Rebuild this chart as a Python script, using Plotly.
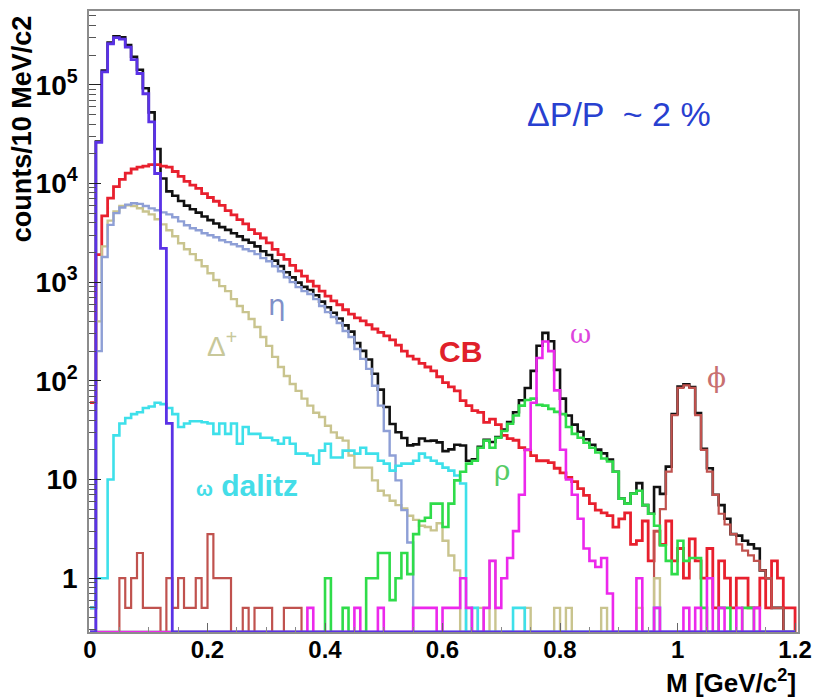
import numpy as np
import plotly.graph_objects as go

# ---------------- data (counts per 10 MeV bin, 0 - 1.2 GeV, 120 bins) ----------------
bin_edges = np.round(np.linspace(0.0, 1.2, 121), 3)

pi0_dalitz = [0, 2.6e4, 1.35e5, 2.6e5, 3.0e5, 2.9e5, 2.4e5, 1.8e5, 1.3e5, 8.1e4,
              4.2e4, 1.26e4, 2.2e3, 37] + [0] * 106

cb = [60, 1900, 4700, 7100, 9300, 11000, 12700, 14000, 14600, 15000,
      15500, 15500, 15000, 14600, 13200, 11800, 10500, 9600, 8900, 7900,
      7200, 6600, 6000, 5300, 4800, 4300, 3900, 3400, 3100, 2800,
      2500, 2150, 1900, 1700, 1480, 1300, 1150, 1020, 910, 810,
      720, 645, 590, 525, 475, 435, 405, 370, 335, 310,
      285, 260, 230, 200, 178, 166, 150, 138, 126, 110,
      96, 87, 79, 63, 56, 50, 48, 38, 41, 36,
      28, 26, 25, 21, 20, 17.5, 15.5, 15.5, 14.8, 13,
      11.7, 10.5, 9.5, 8.1, 6.9, 5.7, 4.9, 4.6, 4.3, 3.3,
      4.0, 4.6, 2.2, 2.4, 3.8, 1.5, 3.0, 2.2, 3.8, 1.5,
      2.0, 1.0, 2.5, 1.5, 1.0, 2.0, 0.5, 1.5, 1.0, 0.5,
      1.0, 1.0, 0.5, 0.5, 1.0, 0.5, 1.5, 1.0, 0.5, 0.5]

eta_dalitz = [0, 200, 1800, 3800, 5000, 5700, 6100, 6300, 6200, 5900,
              5590, 5340, 5090, 4860, 4540, 4130, 3770, 3510, 3350, 3130,
              2980, 2850, 2660, 2540, 2420, 2310, 2150, 2060, 1920, 1750,
              1630, 1450, 1290, 1120, 1000, 890, 810, 757, 673, 572,
              497, 443, 385, 320, 278, 210, 167, 132, 89, 56,
              31, 17.5, 9.8, 4.9, 2.3] + [0] * 65

delta_plus = [0, 400, 2300, 4200, 5200, 5900, 6000, 5900, 5600, 5200,
              4860, 4330, 3850, 3350, 2920, 2480, 2150, 1920, 1670, 1450,
              1230, 1050, 910, 810, 673, 572, 497, 423, 351, 278,
              226, 175, 138, 112, 93, 79, 66, 56, 47.5, 43,
              35, 30, 26.5, 24.8, 17.5, 13.2, 13.2, 13.2, 9.8, 7.7,
              6.9, 6.1, 5.5, 5.1, 4.3, 3.9, 3.4, 3.3, 3.05, 3.6,
              2.4, 1.7, 1.2, 0, 0.5, 0, 0.5, 0, 1.5, 0,
              0, 0, 0, 0, 0.5, 0, 0, 0, 0, 0.5,
              0, 0.5, 0, 0, 0, 0, 0, 0.5, 0, 0,
              0, 0, 0, 0.5, 0, 0, 1.0, 0, 0, 0,
              0, 0, 0, 0, 0, 0, 0, 0, 0, 0,
              0, 0, 0, 0, 0, 0, 0, 0, 0, 0]

omega_dalitz = [0.5, 1, 1, 10, 28, 37, 42, 46, 48, 53,
                55, 60, 58, 53, 46, 34, 37, 39, 39, 38,
                37, 29, 37, 29, 37, 23, 34, 29, 29, 26.5,
                26.5, 25, 23, 26.5, 23, 18.3, 18.3, 17.5, 14.5, 19.6,
                23, 16.7, 16.7, 19.6, 19.6, 18.3, 21, 18.3, 18.3, 15.5,
                14.5, 12.3, 13.8, 14.5, 14.5, 15.5, 18.3, 16.7, 15.5, 14.5,
                13.2, 12.3, 11, 9.1, 0, 0.5, 0, 0, 0, 0,
                0, 0, 0.5, 0.5, 0, 0, 0, 0, 0, 0,
                0, 0, 0, 0, 0, 0, 0, 0, 0, 0,
                0, 0, 0, 0, 0, 0, 0.5, 0, 0, 0,
                0, 0, 0, 0, 0, 0, 0, 0, 0, 0,
                0, 0, 0, 0, 0, 0, 0, 0, 0, 0]

rho = [0] * 40 + [1.0, 0, 0, 0.5, 0, 0, 0, 1.0, 1.0, 1.8,
                  1.8, 0.6, 1.0, 1.8, 1.1, 2.8, 3.8, 4.1, 5.7, 5.7,
                  3.3, 5.7, 9.8, 12, 14.5, 15.5, 21, 24.8, 21, 26.5,
                  31, 36.7, 44.5, 56, 64, 66, 57, 56, 52, 48.5,
                  46, 34, 29, 26.5, 23.6, 21, 18.8, 16.3, 15.2, 12,
                  6.4, 5.7, 7.2, 7.7, 5.5, 4.5, 3.4, 2.15, 1.5, 1.1,
                  2.4, 1.5, 1.6, 1.6, 0.5, 0, 0, 0.5, 0.5, 0,
                  0, 0.5, 0.5, 0, 0, 0, 0, 0, 0, 0]

omega = [0] * 37 + [0.5, 0, 0, 0, 0, 0, 0, 0, 0.5, 0, 0, 0, 0.5,
                    0, 0, 0, 0, 0, 0.5, 0.5, 0.5, 0.5, 0, 0.5, 0.5, 0.5, 1.0,
                    0.5, 0, 0, 0.5, 1.5, 0.5, 1.0, 1.6, 3.0, 7,
                    20, 60, 170, 250, 200, 80, 20, 10, 7, 4,
                    2, 1.5, 1.3, 1.6, 0.7, 0, 0, 0, 0, 1.0,
                    0, 0, 0.5, 0, 0, 0, 0, 0.5, 0, 0.5,
                    0, 1.0, 0, 0.5, 0, 0, 0.5, 0, 0, 0.5,
                    0, 0, 0, 0, 0, 0]

phi = [0, 0, 0, 0, 0, 1.0, 0.5, 1.0, 1.8, 0.5,
       0.5, 0.5, 0, 1.0, 0.5, 1.0, 0.5, 0.5, 1.0, 0.5,
       2.8, 1.0, 1.0, 1.0, 0, 0, 0.5, 0, 0.5, 0.5,
       0.5, 0, 0, 0.5, 0.5, 0.5, 0, 0, 0, 0,
       0, 0, 0, 0, 0, 0, 0, 0, 0, 0,
       0, 0, 0, 0, 0, 0, 0, 0, 0, 0,
       0, 0, 0, 0, 0, 0, 0, 0, 0, 0,
       0, 0, 0, 0, 0, 0, 0, 0, 0, 0,
       0, 0, 0, 0, 0, 0, 0, 0, 0, 0,
       0, 0, 0, 0, 0, 0, 3, 5, 12, 45,
       85, 90, 85, 45, 20, 12, 7, 4.5, 3.5, 2.8,
       2.2, 1.9, 1.7, 1.5, 1.2, 1.0, 0.5, 0.5, 0, 0]

# cocktail sum (black) = sum of all sources except the combinatorial background
cocktail = (np.array(pi0_dalitz) + np.array(eta_dalitz) + np.array(delta_plus)
            + np.array(omega_dalitz) + np.array(rho) + np.array(omega) + np.array(phi))

y_tick_vals = [1, 10, 100, 1000, 10000, 100000]
y_tick_text = ["1", "10", "10<sup>2</sup>", "10<sup>3</sup>", "10<sup>4</sup>", "10<sup>5</sup>"]
x_tick_vals = [0, 0.2, 0.4, 0.6, 0.8, 1.0, 1.2]
x_tick_text = ["0", "0.2", "0.4", "0.6", "0.8", "1", "1.2"]

# ---------------- figure ----------------
Y_LOG_MIN, Y_LOG_MAX = -0.545, 5.747
floor = 10 ** Y_LOG_MIN


def step_xy(vals):
    v = np.asarray(vals, dtype=float)
    x = np.concatenate([bin_edges[:-1], [bin_edges[-1], bin_edges[-1]]])
    y = np.concatenate([v, [v[-1], 0.0]])
    y = np.where(y > 0, y, floor)
    return x, y


series = [
    (cocktail, "#111111", 2.6),
    (cb, "#e8202e", 2.8),
    (phi, "#c0524e", 2.2),
    (delta_plus, "#c9c48e", 2.4),
    (eta_dalitz, "#8e9fd6", 2.4),
    (omega_dalitz, "#3ee0ea", 2.6),
    (rho, "#2fdc4a", 2.6),
    (omega, "#ec28ec", 2.6),
    (pi0_dalitz, "#5a32e6", 2.8),
]

fig = go.Figure()
for vals, col, w in series:
    x, y = step_xy(vals)
    fig.add_trace(go.Scatter(x=x, y=y, mode="lines", line=dict(color=col, width=w, shape="hv"),
                             hoverinfo="skip", showlegend=False))

bold = dict(family="Liberation Sans, Arial, sans-serif", color="black", weight="bold")

fig.update_layout(
    width=821, height=700,
    margin=dict(l=89, r=21, t=9, b=68),
    paper_bgcolor="white", plot_bgcolor="white",
    showlegend=False,
    xaxis=dict(range=[-0.0017, 1.205], tickvals=x_tick_vals, ticktext=x_tick_text,
               showgrid=False, zeroline=False, showline=True, mirror=True,
               linecolor="#8c8c8c", linewidth=1.5, ticks="inside", ticklen=9,
               tickcolor="#666", tickfont=dict(size=24, **bold), ticklabelstandoff=-5,
               minor=dict(ticks="inside", ticklen=5, dtick=0.05, tickcolor="#888", showgrid=False)),
    yaxis=dict(type="log", range=[Y_LOG_MIN, Y_LOG_MAX], tickvals=y_tick_vals, ticktext=y_tick_text,
               showgrid=False, zeroline=False, showline=True, mirror=True,
               linecolor="#8c8c8c", linewidth=1.5, ticks="inside", ticklen=12,
               tickcolor="#222", tickfont=dict(size=28, **bold), ticklabelstandoff=4,
               minor=dict(ticks="inside", ticklen=7, dtick="D1", tickcolor="#555", showgrid=False)),
)

ann = []
ann.append(dict(text="counts/10 MeV/c2", xref="paper", yref="paper", x=-0.094, y=0.81,
                textangle=-90, showarrow=False, xanchor="center", yanchor="middle",
                font=dict(size=27, **bold)))
ann.append(dict(text="M [GeV/c<sup>2</sup>]", xref="paper", yref="paper", x=1.0, y=-0.079,
                showarrow=False, xanchor="right", yanchor="middle", font=dict(size=26, **bold)))


def lab(text, xm, ylog, color, size, weight="normal", family="Liberation Sans, Arial, sans-serif"):
    ann.append(dict(text=text, x=xm, y=ylog, xref="x", yref="y", showarrow=False,
                    xanchor="center", yanchor="middle",
                    font=dict(size=size, color=color, weight=weight, family=family)))


lab("ΔP/P  ~ 2 %", 0.90, 4.70, "#2840d0", 34)
lab("CB", 0.631, 2.30, "#e0202a", 30, "bold")
lab("ω", 0.835, 2.47, "#dd44dd", 26, family="DejaVu Serif, serif")
lab("ϕ", 1.067, 2.03, "#c87070", 28, family="DejaVu Serif, serif")
lab("η", 0.319, 2.76, "#8090c8", 28, family="DejaVu Sans, sans-serif")
lab("Δ<sup>+</sup>", 0.225, 2.37, "#c8c89a", 28)
lab("<span style='font-size:20px'>ω</span> dalitz", 0.267, 0.94, "#44dde8", 30, "bold")
lab("ρ", 0.701, 1.09, "#55cc66", 28, family="DejaVu Serif, serif")

fig.update_layout(annotations=ann)
fig.write_html("out.html")
